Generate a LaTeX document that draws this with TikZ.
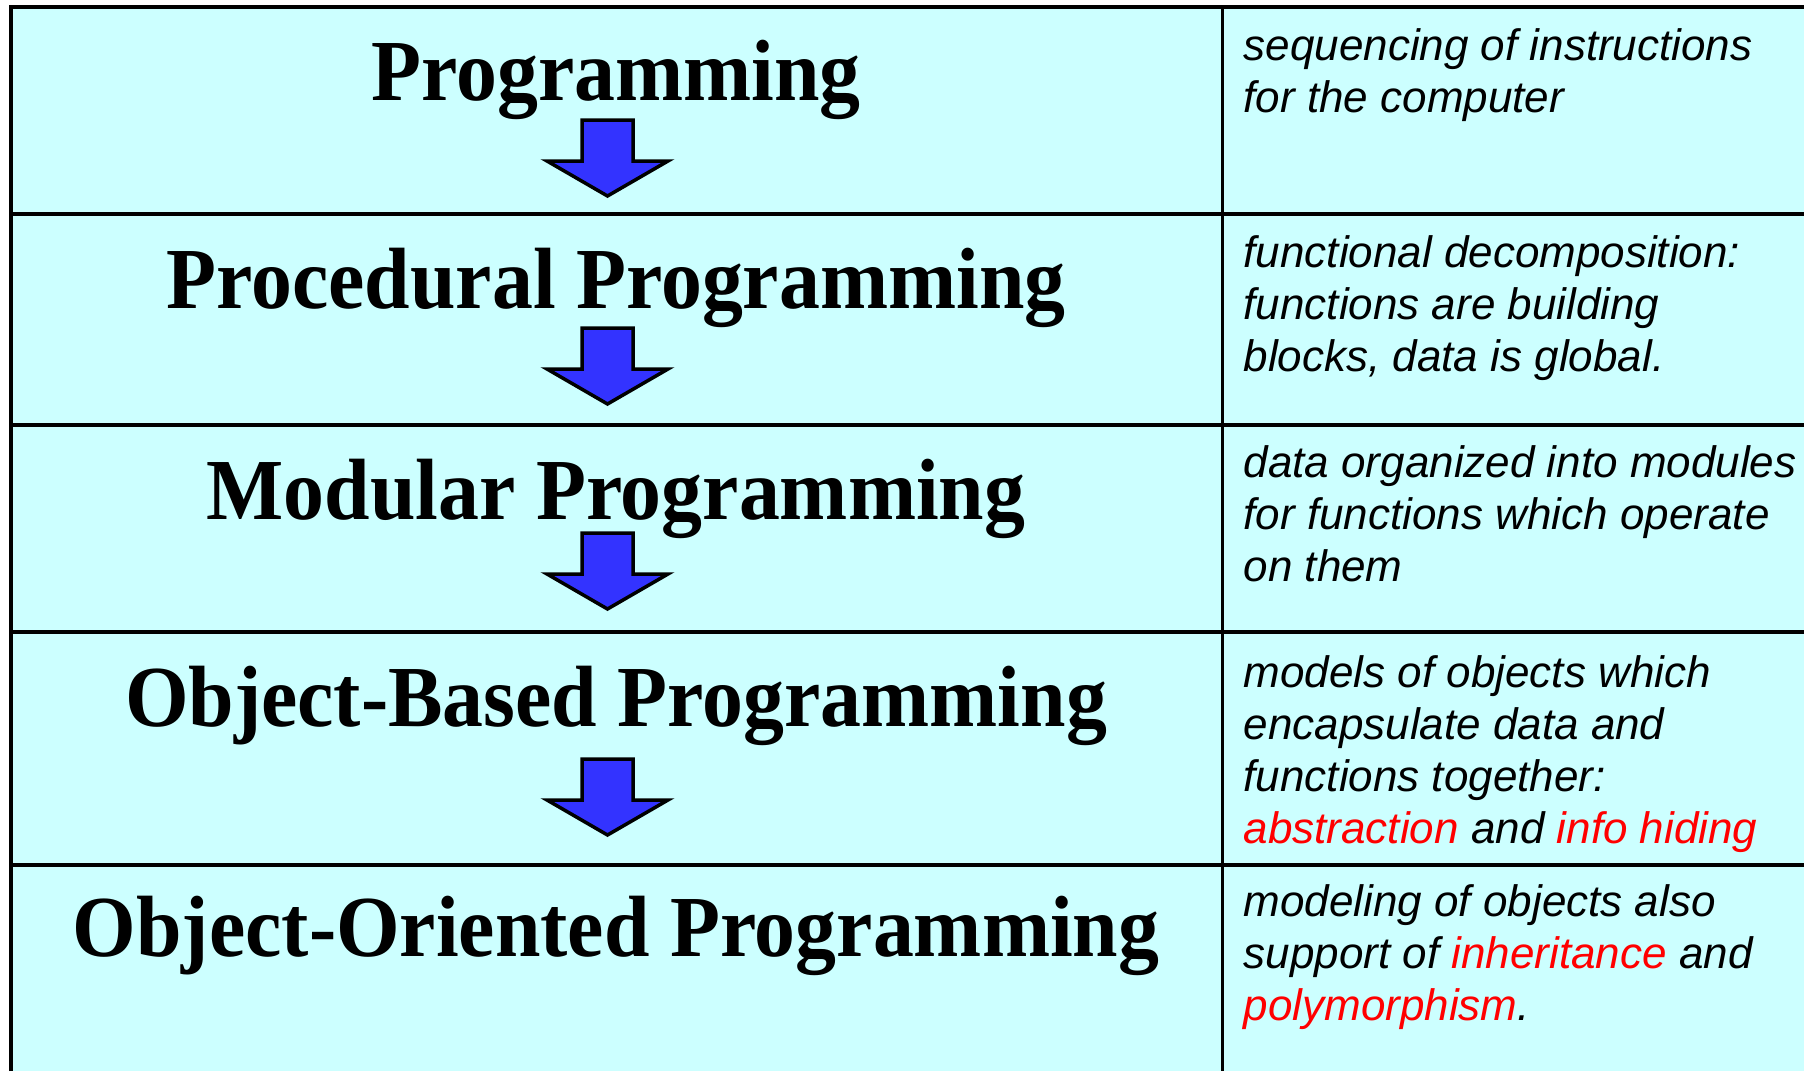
\documentclass[tikz,border=0pt]{standalone}
\usepackage{fontspec}
\newfontfamily\titlefont[FakeStretch=0.94]{Liberation Serif}
\newfontfamily\notefont{Liberation Sans}
\definecolor{cellbg}{HTML}{CCFFFF}
\definecolor{arrowblue}{HTML}{3333FF}
\definecolor{keyred}{HTML}{FF0000}
\newcommand\keyterm[1]{\textcolor{keyred}{#1}}
\newcommand\notelines[1]{\begin{tabular}[t]{@{}l@{}}#1\end{tabular}}

\tikzset{
  grid rule/.style={line width=4.5pt},
  col rule/.style={line width=3pt},
  title/.style={font=\titlefont\bfseries\fontsize{87}{100}\selectfont,
    anchor=base, inner sep=0pt},
  note/.style={font=\notefont\itshape\fontsize{44}{52}\selectfont,
    anchor=base west, inner sep=0pt},
  pics/blockarrow/.style={code={
    \draw[line width=3.5pt, fill=arrowblue, line join=miter]
      (-25.5,2) -- (25.5,2) -- (25.5,43) -- (60.5,43) -- (0,78)
      -- (-60.5,43) -- (-25.5,43) -- cycle;}}
}

\begin{document}
\begin{tikzpicture}[x=1pt, y=-1pt]
  \useasboundingbox (0,0) rectangle (1804,1071);
  \fill[white] (0,0) rectangle (1804,1071);

  % table body
  \fill[cellbg] (11,7) rectangle (1804,1071);
  \draw[grid rule] (11,1071) -- (11,7) -- (1804,7);
  \foreach \y in {214,425,632,865}
    \draw[grid rule] (11,\y) -- (1804,\y);
  \draw[col rule] (1222,7) -- (1222,1071);

  % paradigm titles
  \node[title] (t1) at (616,100) {Programming};
  \node[title] (t2) at (616,308) {Procedural Programming};
  \node[title] (t3) at (616,519) {Modular Programming};
  \node[title] (t4) at (616,726) {Object-Based Programming};
  \node[title] (t5) at (616,956) {Object-Oriented Programming};

  % block arrows between the stages
  \pic at (607.5,118) {blockarrow};
  \pic at (607.5,326) {blockarrow};
  \pic at (607.5,531) {blockarrow};
  \pic at (607.5,757) {blockarrow};

  % descriptions
  \node[note] (n1) at (1243.5,60) {\notelines{sequencing of instructions\\
    for the computer}};
  \node[note] (n2) at (1243.5,267) {\notelines{functional decomposition:\\
    functions are building\\ blocks, data is global.}};
  \node[note] (n3) at (1243.5,477) {\notelines{data organized into modules\\
    for functions which operate\\ on them}};
  \node[note] (n4) at (1243.5,687) {\notelines{models of objects which\\
    encapsulate data and\\ functions together:\\
    \keyterm{abstraction} and \keyterm{info hiding}}};
  \node[note] (n5) at (1243.5,916) {\notelines{modeling of objects also\\
    support of \keyterm{inheritance} and\\ \keyterm{polymorphism}.}};
\end{tikzpicture}
\end{document}
